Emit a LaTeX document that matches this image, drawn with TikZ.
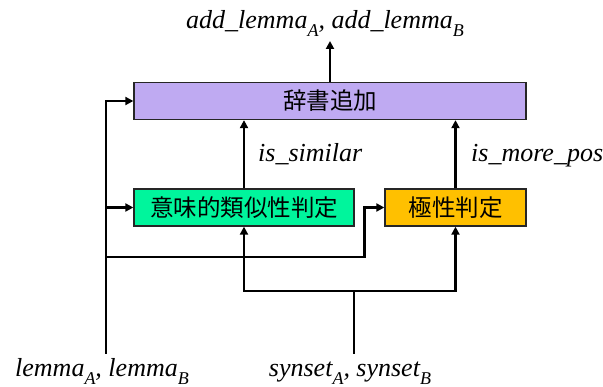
\documentclass[tikz,border=0pt]{standalone}
\usepackage{fontspec}
\setmainfont{Liberation Serif}
\newfontfamily\jpfont{Noto Sans CJK JP}
\usetikzlibrary{arrows.meta}
\definecolor{dictfill}{HTML}{BFAAF2}
\definecolor{simfill}{HTML}{00F59C}
\definecolor{polfill}{HTML}{FFC000}
\newcommand\varsub[1]{\raisebox{-0.28em}{\fontsize{18}{18}\selectfont #1}}
\newcommand\vartext[1]{{\fontsize{26}{30}\selectfont\itshape #1}}
\tikzset{
  procbox/.style={draw=black!85, line width=1.3pt, minimum height=37pt, inner sep=0pt,
    font=\jpfont\fontsize{23.5}{27}\selectfont},
  wire/.style={line width=2.3pt},
  arr/.style={wire, -{Triangle[length=8pt,width=8pt]}},
  varlabel/.style={inner sep=0pt}
}
\begin{document}
\begin{tikzpicture}[x=1pt, y=-1pt]
  \useasboundingbox (0,0) rectangle (603,387);

  % processing blocks
  \node[procbox, fill=dictfill, minimum width=392pt] (dict) at (330,101) {辞書追加};
  \node[procbox, fill=simfill, minimum width=220pt] (sim) at (244,207.5) {意味的類似性判定};
  \node[procbox, fill=polfill, minimum width=141pt] (pol) at (455.5,207.5) {極性判定};

  % inputs and output
  \node[varlabel, anchor=base] (out) at (325,29)
    {\vartext{add\_lemma\varsub{A}, add\_lemma\varsub{B}}};
  \node[varlabel, anchor=base] (lemma) at (102,377)
    {\vartext{lemma\varsub{A}, lemma\varsub{B}}};
  \node[varlabel, anchor=base] (synset) at (350,377)
    {\vartext{synset\varsub{A}, synset\varsub{B}}};
  \node[varlabel, anchor=base west] (simlab) at (258,162) {\vartext{is\_similar}};
  \node[varlabel, anchor=base west] (pollab) at (471,162) {\vartext{is\_more\_pos}};

  % junction points of the wiring
  \coordinate (lin) at (106,354);
  \coordinate (sin) at (354,354);
  \coordinate (sjoin) at (354,291);
  \coordinate (lbend) at (106,257);
  \coordinate (outtip) at (330,41);

  % lemma wiring
  \draw[arr] (lin) |- (dict.west);
  \draw[arr] (lin |- sim.west) -- (sim.west);
  \draw[arr] (lbend) -| ([xshift=-20pt]pol.west) -- (pol.west);

  % synset wiring
  \draw[wire] (sin) -- (sjoin);
  \draw[arr] (sjoin) -| (sim.south);
  \draw[arr] (sjoin) -| (pol.south);

  % judgement results into the dictionary block
  \draw[arr] (sim.north) -- (sim.north |- dict.south);
  \draw[arr] (pol.north) -- (pol.north |- dict.south);

  % output
  \draw[arr] (dict.north) -- (outtip);
\end{tikzpicture}
\end{document}
